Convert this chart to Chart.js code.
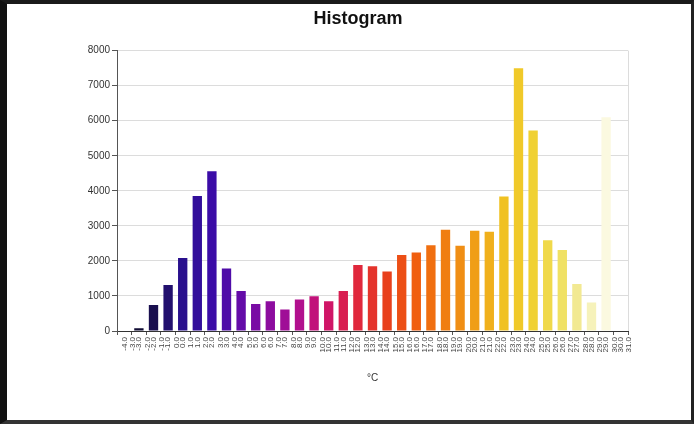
<!DOCTYPE html>
<html lang="en">
<head>
  <meta charset="UTF-8">
  <title>Histogram</title>
  <script src="https://cdn.jsdelivr.net/npm/chart.js"></script>
  <style>
    html, body {
      margin: 0;
      padding: 0;
      background: #fff;
      overflow: hidden;
    }

    .frame {
      width: 694px;
      height: 424px;
      box-sizing: border-box;
      border-left: 7px solid #111;
      border-top: 4px solid #1a1a1a;
      border-right: 3px solid #222;
      border-bottom: 4px solid #333;
      background: #fff;
    }

    canvas {
      display: block;
    }
  </style>
</head>
<body>

  <div class="frame">
    <canvas id="histChart" width="684" height="416"></canvas>
  </div>

  <script>
    // bin edges in °C, one more than the number of bins
    const binEdges = [-4, -3, -2, -1, 0, 1, 2, 3, 4, 5, 6, 7, 8, 9, 10, 11, 12, 13,
                      14, 15, 16, 17, 18, 19, 20, 21, 22, 23, 24, 25, 26, 27, 28, 29, 30, 31];

    // number of samples per bin
    const counts = [0, 80, 740, 1310, 2080, 3850, 4560, 1780, 1140, 770,
                    850, 610, 900, 990, 850, 1140, 1880, 1850, 1700, 2170,
                    2240, 2450, 2890, 2430, 2860, 2830, 3840, 7500, 5720, 2590,
                    2310, 1340, 810, 6100, 0];

    const yTicks = [0, 1000, 2000, 3000, 4000, 5000, 6000, 7000, 8000];

    // colour ramp: dark navy -> violet -> magenta -> red -> orange -> yellow -> cream
    const rampStops = [
      [0.00, '#0c0826'],
      [0.03, '#110c34'],
      [0.06, '#1a1050'],
      [0.12, '#2a1090'],
      [0.18, '#3c0ca8'],
      [0.235, '#640ca8'],
      [0.29, '#8a0ca0'],
      [0.35, '#b01090'],
      [0.41, '#d01468'],
      [0.47, '#e0283c'],
      [0.53, '#e8401c'],
      [0.59, '#f06010'],
      [0.65, '#f08010'],
      [0.71, '#f0a018'],
      [0.76, '#f0c020'],
      [0.82, '#f0d030'],
      [0.88, '#f0e060'],
      [0.91, '#f2e890'],
      [0.94, '#f6f2b8'],
      [0.97, '#fbf9e0'],
      [1.00, '#fdfcee']
    ];

    function hexToRgb(h) {
      const n = parseInt(h.slice(1), 16);
      return [(n >> 16) & 255, (n >> 8) & 255, n & 255];
    }

    function rampColor(t) {
      for (let i = 1; i < rampStops.length; i++) {
        const [t1, c1] = rampStops[i];
        if (t <= t1) {
          const [t0, c0] = rampStops[i - 1];
          const f = (t - t0) / (t1 - t0);
          const a = hexToRgb(c0), b = hexToRgb(c1);
          const mix = a.map((v, k) => Math.round(v + (b[k] - v) * f));
          return `rgb(${mix[0]}, ${mix[1]}, ${mix[2]})`;
        }
      }
      return rampStops[rampStops.length - 1][1];
    }

    const labels = counts.map((_, i) => [binEdges[i].toFixed(1), binEdges[i + 1].toFixed(1)]);
    const barColors = counts.map((_, i) => rampColor(i / (counts.length - 1)));

    const fontFamily = "'Liberation Sans', Arial, sans-serif";

    new Chart(document.getElementById('histChart'), {
      type: 'bar',
      data: {
        labels: labels,
        datasets: [{
          data: counts,
          backgroundColor: barColors,
          borderWidth: 0,
          barPercentage: 0.64,
          categoryPercentage: 1
        }]
      },
      options: {
        responsive: false,
        animation: false,
        layout: {
          padding: { left: 81, right: 63, top: 0, bottom: 34 }
        },
        plugins: {
          legend: { display: false },
          tooltip: { enabled: false },
          title: {
            display: true,
            text: 'Histogram',
            color: '#111',
            font: { family: fontFamily, size: 18, weight: 'bold' },
            padding: { top: 4, bottom: 21 }
          }
        },
        scales: {
          x: {
            afterFit: (s) => { s.height = 55; },
            grid: {
              offset: true,
              drawOnChartArea: true,
              color: (c) => (c.index === undefined || c.index >= counts.length) ? '#dcdcdc' : 'rgba(0,0,0,0)',
              tickColor: '#555',
              tickLength: 4
            },
            border: { color: '#333', width: 1 },
            ticks: {
              autoSkip: false,
              minRotation: 90,
              maxRotation: 90,
              padding: 2,
              color: '#444',
              font: { family: fontFamily, size: 8, lineHeight: 1.05 }
            },
            title: {
              display: true,
              text: '°C',
              color: '#333',
              font: { family: fontFamily, size: 10 },
              padding: { top: 0, bottom: 2 }
            }
          },
          y: {
            min: yTicks[0],
            max: yTicks[yTicks.length - 1],
            afterFit: (s) => { s.width = 29; },
            grid: {
              color: '#dcdcdc',
              tickColor: '#555',
              tickLength: 5
            },
            border: { color: '#555', width: 1 },
            ticks: {
              stepSize: yTicks[1] - yTicks[0],
              padding: 2,
              color: '#333',
              font: { family: fontFamily, size: 10 },
              callback: (v) => String(v)
            }
          }
        }
      }
    });
  </script>

</body>
</html>
